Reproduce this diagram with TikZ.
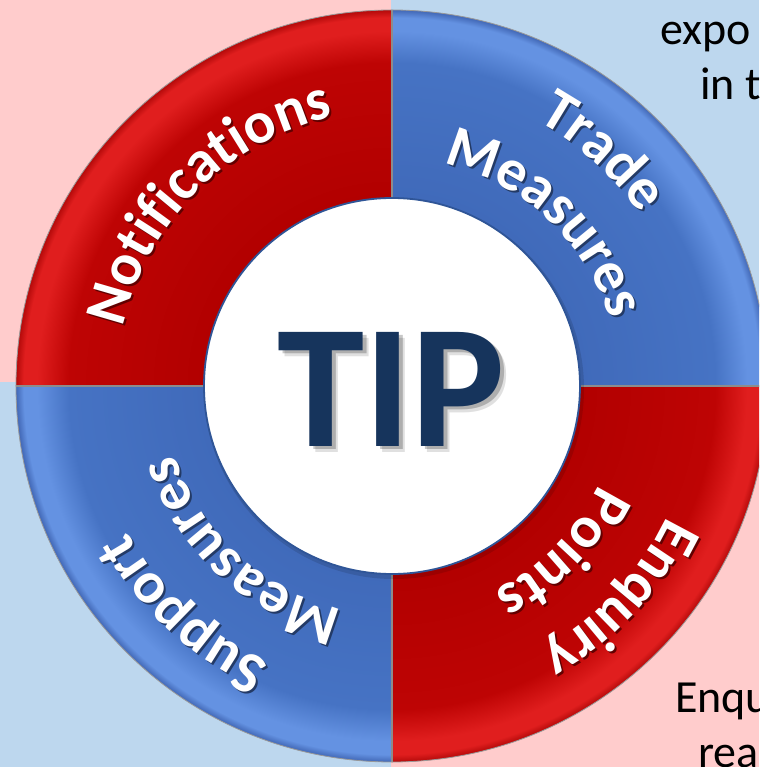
\documentclass[tikz,border=0pt]{standalone}
\usepackage{fontspec}
\setmainfont{Carlito}
\usetikzlibrary{decorations.text}
\definecolor{bgpink}{RGB}{255,204,204}
\definecolor{bgblue}{RGB}{189,215,238}
\definecolor{rdark}{RGB}{178,0,0}
\definecolor{rmain}{RGB}{190,4,4}
\definecolor{rlight}{RGB}{224,30,30}
\definecolor{rrim}{RGB}{180,10,10}
\definecolor{bdark}{RGB}{64,106,186}
\definecolor{bmain}{RGB}{70,115,196}
\definecolor{blight}{RGB}{100,146,226}
\definecolor{brim}{RGB}{66,104,182}
\definecolor{navy}{RGB}{22,52,92}
\definecolor{ringedge}{RGB}{47,85,151}
\pgfdeclareradialshading{redring}{\pgfpointorigin}{color(0bp)=(rdark); color(12.5bp)=(rdark); color(21.5bp)=(rmain); color(23.6bp)=(rlight); color(24.5bp)=(rlight); color(25bp)=(rrim); color(50bp)=(rrim)}
\pgfdeclareradialshading{bluering}{\pgfpointorigin}{color(0bp)=(bdark); color(12.5bp)=(bdark); color(21.5bp)=(bmain); color(23.6bp)=(blight); color(24.5bp)=(blight); color(25bp)=(brim); color(50bp)=(brim)}
\newcommand{\ringlabel}[4]{%
  \begin{scope}[shift={(2,-2)}]
  \path[decorate, decoration={text along path, text align=center,
     text={|\fontsize{59}{59}\selectfont\bfseries\color{#4}|#3}}]
     (#2+80:#1) arc[start angle=#2+80, end angle=#2-80, radius=#1];
  \end{scope}
  \path[decorate, decoration={text along path, text align=center,
     text={|\fontsize{59}{59}\selectfont\bfseries\color{white}|#3}}]
     (#2+80:#1) arc[start angle=#2+80, end angle=#2-80, radius=#1];
}
\tikzset{
  sidetext/.style={anchor=base west, inner sep=0pt, font=\fontsize{46}{46}\selectfont, text=black},
  tipfont/.style={inner sep=0pt, font=\fontsize{176}{176}\selectfont\bfseries},
  divider/.style={draw=black!45, line width=1.4pt},
}
\begin{document}
\begin{tikzpicture}[x=1pt,y=1pt]
\useasboundingbox (-392,-381) rectangle (367,386);
\clip (-392,-381) rectangle (367,386);
% background quadrants
\fill[bgpink] (-392,4) rectangle (-1,386);
\fill[bgblue] (-1,4) rectangle (367,386);
\fill[bgblue] (-392,-381) rectangle (-1,4);
\fill[bgpink] (-1,-381) rectangle (367,4);
% partial side texts
\node[sidetext] (t1) at (268,341) {expo};
\node[sidetext] (t2) at (308,286) {in t};
\node[sidetext] (t3) at (283,-326) {Enqu};
\node[sidetext] (t4) at (306,-381) {rea};
% ring quadrants
\begin{scope}
  \clip (0,0) -- (90:380) arc[start angle=90, end angle=180, radius=380] -- cycle;
  \shade[shading=redring] (0,0) circle[radius=376];
\end{scope}
\begin{scope}
  \clip (0,0) -- (0:380) arc[start angle=0, end angle=90, radius=380] -- cycle;
  \shade[shading=bluering] (0,0) circle[radius=376];
\end{scope}
\begin{scope}
  \clip (0,0) -- (270:380) arc[start angle=270, end angle=360, radius=380] -- cycle;
  \shade[shading=redring] (0,0) circle[radius=376];
\end{scope}
\begin{scope}
  \clip (0,0) -- (180:380) arc[start angle=180, end angle=270, radius=380] -- cycle;
  \shade[shading=bluering] (0,0) circle[radius=376];
\end{scope}
\draw[divider] (-376,0) -- (376,0);
\draw[divider] (0,-376) -- (0,376);
\draw[black!40, line width=0.8pt] (0,0) circle[radius=376];
% ring labels
\ringlabel{275}{135}{Notifications}{rdark!55!black}
\ringlabel{302}{48}{Trade}{bdark!55!black}
\ringlabel{228}{47}{Measures}{bdark!55!black}
\ringlabel{304}{-43}{Enquiry}{rdark!55!black}
\ringlabel{229}{-44.5}{Points}{rdark!55!black}
\ringlabel{302}{-132.5}{Support}{bdark!55!black}
\ringlabel{228}{-132.5}{Measures}{bdark!55!black}
% hub
\draw[fill=black, fill opacity=0.12, draw=none] (2,-3) circle[radius=190];
\draw[fill=white, draw=ringedge, line width=1.8pt] (0,0) circle[radius=188];
\node[tipfont, text=black, opacity=0.12] (tips2) at (5,-9) {TIP};
\node[tipfont, text=black, opacity=0.22] (tips1) at (3,-6) {TIP};
\node[tipfont, text=navy] (tip) at (-1,-3) {TIP};
\end{tikzpicture}
\end{document}
